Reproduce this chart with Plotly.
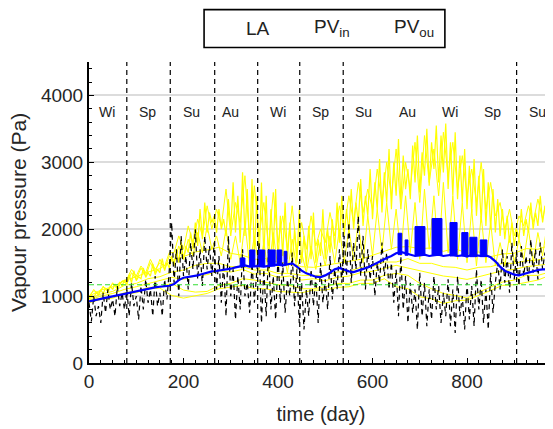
import plotly.graph_objects as go

# ---------------- data ----------------
# noisy series sampled every 5 days (0..975)
step_fine = 5
pv_in_hi = [
    960, 1010, 980, 1050, 1020, 1090, 1040, 1120, 1070, 1150, 1100, 1180, 1120, 1210, 1150, 1240,
    1180, 1320, 1200, 1380, 1230, 1290, 1260, 1420, 1280, 1350, 1300, 1480, 1320, 1400, 1350, 1560, 1380, 1500, 1420,
    1600, 1450, 1700, 1500, 1800, 1550, 1750, 1650, 1950, 1700, 2100, 1750, 2300, 1850, 2400, 1950, 2250, 2100,
    2200, 1950, 2300, 2000, 2150, 1900, 2450, 2000, 2700, 1950, 2500, 1800, 2850, 1900, 2600, 1700, 2750, 1600, 2500,
    1500, 2700, 1600, 2500, 1450, 2300, 1700, 2600, 1500, 2200, 1600, 2400, 1550, 2100, 1450, 2000, 1500, 2300,
    1500, 1900, 1450, 2050, 1550, 2250, 1500, 1850, 1600, 2300, 1550, 2000, 1650, 2150, 1700, 2400, 1800, 2500,
    1900, 2300, 1950, 2600, 2000, 2400, 2100, 2750, 2050, 2500, 2200, 2900, 2150, 2700, 2300, 3050, 2250, 2850, 2400, 3200,
    2300, 3000, 2500, 3350, 2400, 3100, 2600, 2900, 2450, 3250, 2700, 3400, 2550, 3150, 2800, 3500, 2650, 3300, 2900, 3550, 2700, 3400, 2850, 3580,
    2600, 3300, 2500, 3450, 2450, 3100, 2400, 3200, 2300, 2950, 2250, 3050, 2200, 2800, 2100, 2900, 2050, 2700, 2000, 2600, 1950,
    2450, 1900, 2300, 1850, 2200, 1800, 2100, 1750, 2000, 1850, 2300, 1900, 2150, 1950, 2400, 2000, 2250, 2050, 2500, 2100, 2350, 2150, 2600,
]
la = [
    900, 620, 1000, 700, 850, 600, 1050, 750, 1100, 800, 950, 700, 1150, 850, 1050, 800,
    1100, 700, 1200, 850, 1000, 650, 1150, 800, 1250, 900, 1100, 700, 1300, 850, 1050, 700, 1250, 950, 1400,
    2100, 1200, 1700, 1000, 1900, 1300, 1600, 1100, 1800, 1400, 2000, 1250, 1700, 1150, 1900, 1400, 1750, 1300,
    1800, 1100, 1600, 900, 1500, 700, 1900, 1000, 1400, 650, 1300, 800, 1700, 1000, 1200, 750, 1500, 900, 1300,
    1800, 600, 1400, 700, 1700, 800, 1300, 650, 1600, 900, 1500, 750, 1250, 1000, 1650, 850, 1400, 600,
    1200, 500, 1100, 700, 1400, 850, 1300, 600, 1500, 900, 1250, 800, 1600, 950, 1400, 1100, 1700, 1200,
    1900, 1300, 2100, 1200, 1800, 1400, 2200, 1300, 1900, 1100, 1700, 1250, 1600, 1000, 1500, 1200, 1800, 1300, 1650, 1100,
    1500, 900, 1400, 700, 1600, 800, 1300, 600, 1200, 750, 1100, 500, 1350, 700, 1200, 550, 1100, 650, 1300, 800, 1150, 600, 1050, 700,
    1250, 550, 1100, 450, 1300, 700, 1000, 500, 1200, 650, 1150, 550, 1400, 800, 1250, 600, 1100, 500, 1350, 750, 1200,
    1500, 1100, 1700, 1200, 1600, 1050, 1800, 1250, 1650, 1150, 1750, 1300, 1600, 1200, 1850, 1350, 1700, 1250, 1800, 1400, 1650, 1300, 1750,
]

# series sampled every 10 days (0..970)
step_mid = 10
pv_in_mid = [
    980, 1100, 1020, 1150, 1060, 1200, 1100, 1230,
    1180, 1350, 1250, 1420, 1300, 1500, 1350, 1550, 1400, 1600,
    1500, 1750, 1550, 1850, 1600, 1950, 1650, 2050, 1700,
    1900, 1600, 2000, 1550, 1900, 1500, 2100, 1450, 1900,
    1400, 1800, 1350, 1950, 1400, 1700, 1350, 1850, 1400,
    1650, 1350, 1750, 1400, 1800, 1450, 1900, 1500, 2000,
    1500, 2000, 1550, 2100, 1500, 2200, 1600, 2300, 1650, 2400,
    1700, 2300, 1600, 2500, 1650, 2400, 1550, 2600, 1700, 2500, 1600, 2700,
    1650, 2500, 1550, 2400, 1500, 2300, 1450, 2200, 1500, 2100, 1450,
    1800, 1450, 1900, 1500, 1850, 1550, 2000, 1500, 1950, 1600, 2100,
]
pv_in_hi2 = [
    1000, 1080, 1050, 1130, 1100, 1180, 1150, 1220,
    1250, 1400, 1300, 1450, 1350, 1550, 1400, 1500, 1450, 1650,
    1650, 1900, 1700, 2050, 1800, 2150, 1900, 2350, 2000,
    2300, 2050, 2600, 1900, 2400, 2100, 2800, 1850, 2650,
    1900, 2400, 1750, 2550, 1800, 2200, 1700, 2350, 1650,
    2100, 1700, 2200, 1750, 2000, 1800, 2250, 1900, 2350,
    2000, 2500, 2100, 2700, 2250, 2600, 2300, 2900, 2400, 3000,
    2500, 3200, 2300, 3000, 2600, 3300, 2400, 3400, 2700, 3200, 2500, 3450,
    2800, 3300, 2600, 3100, 2500, 2900, 2400, 3000, 2300, 2700, 2200,
    2400, 2000, 2300, 1900, 2200, 2050, 2350, 2100, 2450, 2150, 2500,
]
pv_ou = [
    920, 935, 955, 970, 985, 995, 1010, 1025,
    1040, 1055, 1070, 1095, 1110, 1120, 1130, 1140, 1150, 1155,
    1180, 1240, 1275, 1285, 1295, 1310, 1330, 1355, 1370,
    1375, 1385, 1395, 1410, 1430, 1450, 1460, 1440, 1450,
    1450, 1440, 1450, 1460, 1470, 1460, 1480, 1490, 1440,
    1380, 1340, 1310, 1290, 1285, 1310, 1350, 1400, 1420,
    1390, 1370, 1360, 1380, 1400, 1430, 1460, 1500, 1540, 1570,
    1600, 1640, 1660, 1640, 1620, 1600, 1610, 1620, 1600, 1610, 1620, 1600,
    1610, 1620, 1600, 1610, 1590, 1620, 1610, 1600, 1610, 1580, 1520,
    1440, 1380, 1350, 1320, 1310, 1330, 1360, 1380, 1390, 1400, 1400,
]
# blue oscillation blocks: (start day, end day, low, high)
ou_blocks = [
    (320, 330, 1440, 1570), (340, 351, 1440, 1690), (358, 372, 1440, 1690),
    (379, 394, 1450, 1690), (398, 408, 1460, 1690), (413, 419, 1480, 1670),
    (654, 662, 1620, 1940), (669, 675, 1610, 1840), (690, 711, 1610, 2040),
    (726, 747, 1610, 2160), (764, 779, 1600, 2100), (789, 802, 1600, 1950),
    (806, 821, 1590, 1880), (828, 842, 1590, 1840),
]

# thinner yellow lines sampled every 25 days (0..975)
step_coarse = 25
pv_in_a = [1000, 1090, 1140, 1230, 1290, 1360, 1410, 1530, 1590, 1660, 1690, 1730, 1640, 1610, 1550, 1560, 1510, 1490, 1440, 1430,
           1460, 1490, 1530, 1550, 1610, 1670, 1730, 1740, 1710, 1720, 1670, 1710, 1640, 1660, 1590, 1630, 1640, 1710, 1700, 1760]
pv_in_b = [960, 1030, 1070, 1160, 1190, 1260, 1290, 1360, 1390, 1460, 1490, 1490, 1440, 1440, 1390, 1390, 1340, 1340, 1310, 1310,
           1310, 1360, 1370, 1430, 1440, 1510, 1510, 1560, 1490, 1490, 1440, 1430, 1390, 1430, 1440, 1490, 1490, 1530, 1540, 1590]
pv_in_c = [930, 970, 990, 1050, 1070, 1130, 1140, 1190, 1090, 1060, 1070, 1160, 1190, 1260, 1240, 1210, 1170, 1160, 1110, 1110,
           1140, 1190, 1190, 1240, 1240, 1310, 1340, 1310, 1190, 1110, 1040, 1010, 970, 1060, 1140, 1210, 1240, 1310, 1310, 1360]
pv_in_d = [900, 950, 970, 1030, 1050, 1110, 1120, 1010, 970, 1010, 1040, 1110, 1140, 1160, 1110, 1110, 1070, 1060, 1050, 1090,
           1090, 1130, 1140, 1190, 1190, 1260, 1140, 1110, 990, 960, 890, 930, 940, 1010, 1090, 1160, 1170, 1210, 1240, 1310]
pv_in_e = [940, 1000, 1040, 1100, 1140, 1190, 1230, 1280, 1250, 1300, 1320, 1380, 1360, 1400, 1330, 1340, 1280, 1300, 1240, 1260,
           1230, 1280, 1300, 1350, 1370, 1420, 1460, 1420, 1380, 1350, 1300, 1280, 1250, 1290, 1330, 1380, 1400, 1440, 1460, 1480]

ref_level = 1170
season_bounds = [80, 172, 266, 357, 446, 538, 905]
season_names = ["Wi", "Sp", "Su", "Au", "Wi", "Sp", "Su", "Au", "Wi", "Sp", "Su"]
season_pos = [38, 124, 216, 300, 400, 489, 580, 674, 763, 854, 949]
season_label_y = 3760
x_max = 982
y_max = 4500

# ---------------- figure ----------------
def days(n, step):
    return [i * step for i in range(n)]

YELLOW = "#ffff00"
fig = go.Figure()

for ys in (pv_in_a, pv_in_b, pv_in_c, pv_in_d, pv_in_e):
    fig.add_trace(go.Scatter(x=days(len(ys), step_coarse), y=ys, mode="lines",
                             line=dict(color=YELLOW, width=1), showlegend=False, hoverinfo="skip"))
for ys in (pv_in_mid, pv_in_hi2):
    fig.add_trace(go.Scatter(x=days(len(ys), step_mid), y=ys, mode="lines",
                             line=dict(color=YELLOW, width=1), showlegend=False, hoverinfo="skip"))
fig.add_trace(go.Scatter(x=days(len(pv_in_hi), step_fine), y=pv_in_hi, mode="lines",
                         line=dict(color=YELLOW, width=1.2), showlegend=False, hoverinfo="skip"))
fig.add_trace(go.Scatter(x=days(len(la), step_fine), y=la, mode="lines",
                         line=dict(color="black", width=1.2, dash="5px,4px"), showlegend=False, hoverinfo="skip"))
fig.add_trace(go.Scatter(x=[0, x_max], y=[ref_level, ref_level], mode="lines",
                         line=dict(color="#33dd33", width=1.2, dash="5px,3px"), showlegend=False, hoverinfo="skip"))
fig.add_trace(go.Scatter(x=days(len(pv_ou), step_mid), y=pv_ou, mode="lines",
                         line=dict(color="#0000ff", width=2.2), showlegend=False, hoverinfo="skip"))
bx, by = [], []
for s, e, lo, hi in ou_blocks:
    bx += [s, s, e, e, s, None]
    by += [lo, hi, hi, lo, lo, None]
fig.add_trace(go.Scatter(x=bx, y=by, mode="lines", fill="toself", fillcolor="#0000ff",
                         line=dict(color="#0000ff", width=1), showlegend=False, hoverinfo="skip"))

shapes = []
for b in season_bounds:
    shapes.append(dict(type="line", x0=b, x1=b, y0=0, y1=1, xref="x", yref="paper",
                       line=dict(color="black", width=1.2, dash="5px,4px"), layer="above"))
# legend box
shapes.append(dict(type="rect", xref="paper", yref="paper", x0=0.248, x1=0.767, y0=1.048, y1=1.174,
                   line=dict(color="black", width=1.6), fillcolor="white"))

annotations = []
for name, p in zip(season_names, season_pos):
    annotations.append(dict(x=p, y=season_label_y, xref="x", yref="y", text=name, showarrow=False,
                            font=dict(size=14, color="#222"), xanchor="center", yanchor="middle"))
leg_items = [("LA", 0.364), ("PV<sub>in</sub>", 0.524), ("PV<sub>ou</sub>", 0.700)]
for t, px in leg_items:
    annotations.append(dict(x=px, y=1.112, xref="paper", yref="paper", text=t, showarrow=False,
                            font=dict(size=19, color="#222"), xanchor="center", yanchor="middle"))
# y-axis title
annotations.append(dict(x=-0.152, y=0.5, xref="paper", yref="paper", text="Vapour pressure (Pa)",
                        textangle=-90, showarrow=False, xanchor="center", yanchor="middle",
                        font=dict(size=21, color="#262626")))

# the page adds an 8px body margin, so the figure is 8px smaller than the window
fig.update_layout(
    width=545, height=421,
    margin=dict(l=81, r=0, t=54, b=66),
    paper_bgcolor="white", plot_bgcolor="white",
    font=dict(family="Liberation Sans, Arial, sans-serif", color="#262626"),
    shapes=shapes, annotations=annotations, showlegend=False,
)
fig.update_xaxes(range=[0, x_max], showline=True, linecolor="black", linewidth=2, automargin=False,
                 ticks="inside", ticklen=5, tickcolor="black", dtick=200, tick0=0,
                 minor=dict(ticks="inside", ticklen=3, dtick=25, tickcolor="black"),
                 showgrid=False, zeroline=False, tickfont=dict(size=19, color="#262626"),
                 title=dict(text="time (day)", font=dict(size=20, color="#262626"), standoff=16))
fig.update_yaxes(range=[0, y_max], showline=True, linecolor="black", linewidth=2, automargin=False,
                 ticks="inside", ticklen=5, tickcolor="black", dtick=1000, tick0=0,
                 minor=dict(ticks="inside", ticklen=3, dtick=200, tickcolor="black"),
                 showgrid=True, gridcolor="#dcdcdc", gridwidth=1.5, zeroline=False,
                 tickfont=dict(size=19, color="#262626"))

fig.write_html("out.html")
